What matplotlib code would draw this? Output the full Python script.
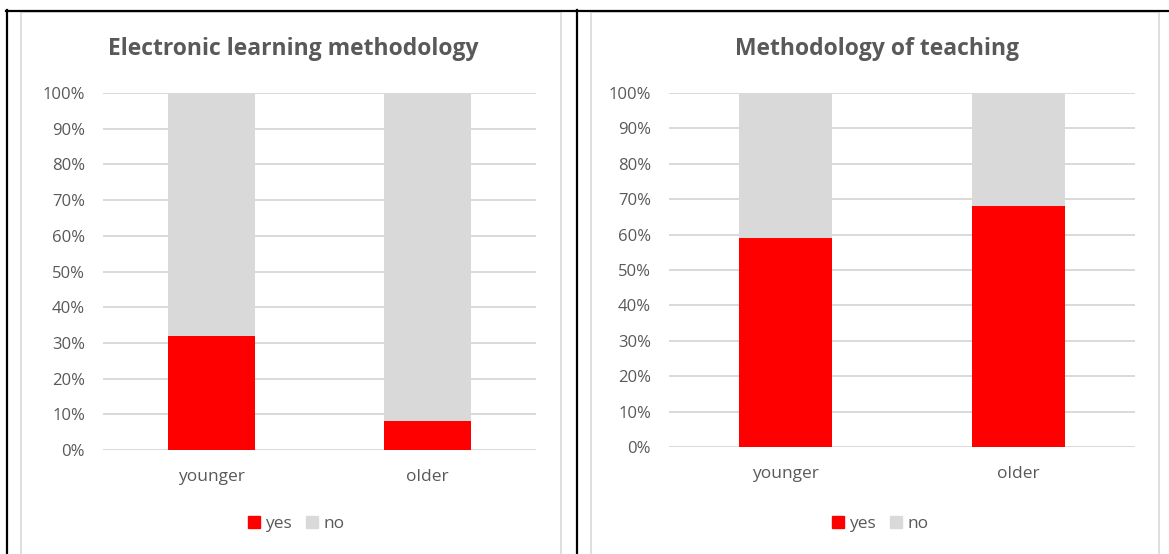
import matplotlib.pyplot as plt
from matplotlib.patches import Rectangle, Patch
from matplotlib.lines import Line2D

# Survey answers (share of respondents)
groups = ['younger', 'older']
elearning_yes = [0.32, 0.08]
teaching_yes = [0.59, 0.68]
titles = ['Electronic learning methodology', 'Methodology of teaching']

W, H = 1169, 554
RED = '#FF0000'
GREY = '#D9D9D9'
TEXT = '#595959'

plt.rcParams['font.family'] = ['Open Sans', 'DejaVu Sans']

fig = plt.figure(figsize=(W / 100, H / 100), dpi=100)


def px_box(x0, y0, x1, y1):
    # pixel box (top-left origin) -> figure fraction [left, bottom, width, height]
    return [x0 / W, (H - y1) / H, (x1 - x0) / W, (y1 - y0) / H]


def fx(x):
    return x / W


def fy(y):
    return (H - y) / H


# table cell borders
for xs, ys in [((6, W), (10.5, 10.5)), ((6.5, 6.5), (10, H)), ((577, 577), (10, H))]:
    fig.add_artist(Line2D([fx(x) for x in xs], [fy(y) for y in ys],
                          color='black', lw=1.6, transform=fig.transFigure))

# chart area frames
frames = [(21, 12, 561, 560), (591, 12, 1159, 560)]
for x0, y0, x1, y1 in frames:
    fig.add_artist(Rectangle((fx(x0), fy(y1)), fx(x1 - x0), (y1 - y0) / H,
                             transform=fig.transFigure, fill=False,
                             edgecolor=GREY, lw=1.2))

plots = [(103, 93, 536, 450), (669, 93, 1135, 447)]
series = [elearning_yes, teaching_yes]

for (box, yes, title, frame) in zip(plots, series, titles, frames):
    ax = fig.add_axes(px_box(*box))
    no = [1 - v for v in yes]
    x = range(len(groups))
    ax.bar(x, yes, width=0.4, color=RED, zorder=3)
    ax.bar(x, no, width=0.4, bottom=yes, color=GREY, zorder=3)
    ax.set_xlim(-0.5, 1.5)
    ax.set_ylim(0, 1)
    ax.set_yticks([i / 10 for i in range(11)])
    ax.set_yticklabels([f'{i * 10}%' for i in range(11)])
    ax.set_xticks(list(x))
    ax.set_xticklabels(groups)
    ax.yaxis.grid(True, color=GREY, lw=1.4, zorder=0)
    ax.set_axisbelow(True)
    for s in ax.spines.values():
        s.set_visible(False)
    ax.tick_params(axis='y', length=0, pad=13, labelsize=12, labelcolor=TEXT)
    ax.tick_params(axis='x', length=0, pad=14, labelsize=12.5, labelcolor=TEXT)

    cx = (frame[0] + frame[2]) / 2
    fig.text(fx(cx + 2), fy(49), title, ha='center', va='center',
             fontsize=16.5, fontweight='bold', color=TEXT)

    handles = [Patch(color=RED, label='yes'), Patch(color=GREY, label='no')]
    fig.legend(handles=handles, loc='center', bbox_to_anchor=(fx(cx + 5), fy(524)),
               ncol=2, frameon=False, fontsize=12.5, handlelength=0.7,
               handleheight=0.7, handletextpad=0.3, columnspacing=0.8,
               labelcolor=TEXT)

fig.savefig('out.png', dpi=100)
